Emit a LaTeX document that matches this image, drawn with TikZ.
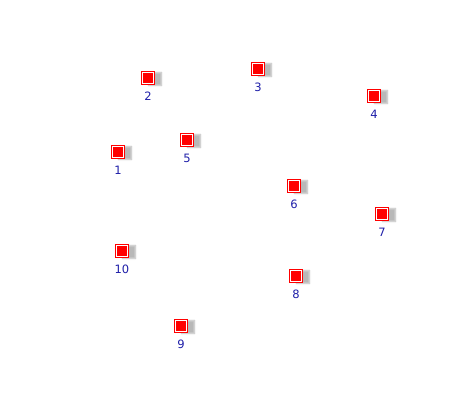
\documentclass[tikz,border=0pt]{standalone}
\usepackage{fontspec}
\setmainfont{DejaVu Sans}
\usepackage{xcolor}
\usepackage{tikz}
\usetikzlibrary{shadows.blur,positioning}
\definecolor{dotred}{HTML}{FF0000}
\definecolor{tagblue}{HTML}{1E1EA8}
\tikzset{
  dot/.style={draw=dotred, fill=white, line width=1pt,
              minimum size=13pt, inner sep=0pt,
              path picture={\fill[dotred]
                ([shift={(1.5pt,1.5pt)}]path picture bounding box.south west)
                rectangle ([shift={(-1.5pt,-1.5pt)}]path picture bounding box.north east);},
              blur shadow={shadow xshift=7pt, shadow yshift=-1pt,
                           shadow opacity=28, shadow blur radius=1.5pt,
                           shadow blur steps=4}},
  tag/.style={text=tagblue, font=\fontsize{11.5}{13}\selectfont, inner sep=0pt}
}

\begin{document}
\begin{tikzpicture}[x=1pt,y=-1pt]
      \useasboundingbox (0,0) rectangle (460,400);
      % points
      \node[dot] (p1) at (118,152) {};
      \node[dot] (p2) at (148,78) {};
      \node[dot] (p3) at (258,69) {};
      \node[dot] (p4) at (374,96) {};
      \node[dot] (p5) at (187,140) {};
      \node[dot] (p6) at (294,186) {};
      \node[dot] (p7) at (382,214) {};
      \node[dot] (p8) at (296,276) {};
      \node[dot] (p9) at (181,326) {};
      \node[dot] (p10) at (122,251) {};
      % numbers
      \node[tag, below=7pt of p1] (t1) {1};
      \node[tag, below=7pt of p2] (t2) {2};
      \node[tag, below=7pt of p3] (t3) {3};
      \node[tag, below=7pt of p4] (t4) {4};
      \node[tag, below=7pt of p5] (t5) {5};
      \node[tag, below=7pt of p6] (t6) {6};
      \node[tag, below=7pt of p7] (t7) {7};
      \node[tag, below=7pt of p8] (t8) {8};
      \node[tag, below=7pt of p9] (t9) {9};
      \node[tag, below=7pt of p10] (t10) {10};
    \end{tikzpicture}
\end{document}
